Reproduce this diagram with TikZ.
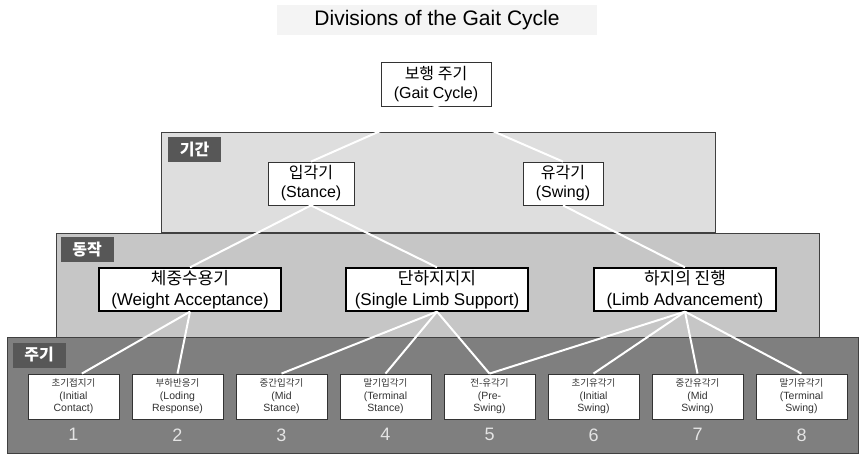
\documentclass[tikz,border=0pt]{standalone}
\usepackage{fontspec}
\setmainfont{Liberation Sans}
\newfontfamily\kr{Noto Sans CJK KR}
\usetikzlibrary{positioning}

\definecolor{bandA}{HTML}{DEDEDE}
\definecolor{bandB}{HTML}{C6C6C6}
\definecolor{bandC}{HTML}{7F7F7F}
\definecolor{tagfill}{HTML}{575757}
\definecolor{numgray}{HTML}{E4E4E4}
\definecolor{titlebg}{HTML}{F4F4F4}

\begin{document}
\begin{tikzpicture}[x=1pt, y=-1pt,
    band/.style={draw=black!75, line width=0.9pt},
    tag/.style={fill=tagfill, text=white, inner sep=0pt, minimum width=53pt, minimum height=25pt, font=\kr\bfseries\fontsize{16}{18}\selectfont},
    topbox/.style={draw=black!80, fill=white, line width=0.8pt, align=center, inner sep=1pt, font=\fontsize{16}{19}\selectfont},
    midbox/.style={draw=black, fill=white, line width=1.3pt, align=center, inner sep=1pt, minimum width=182pt, minimum height=43pt, font=\fontsize{17}{21}\selectfont},
    phase/.style={draw=black!80, fill=white, line width=0.8pt, align=center, inner sep=1pt, minimum width=91pt, minimum height=45pt, text=black!80, font=\fontsize{10.5}{12.5}\selectfont},
    numlbl/.style={text=numgray, inner sep=0pt, font=\fontsize{18}{20}\selectfont},
    link/.style={draw=white, line width=2pt}]
    \useasboundingbox (0,0) rectangle (859,453);

    % title
    \node[fill=titlebg, minimum width=320pt, minimum height=30pt, font=\fontsize{21}{24}\selectfont] (title) at (437,20) {Divisions of the Gait Cycle};

    % bands
    \filldraw[band, fill=bandA] (161,132) rectangle (715,232);
    \filldraw[band, fill=bandB] (56,233) rectangle (819,338);
    \filldraw[band, fill=bandC] (7,337) rectangle (858,453);
    \node[tag] (tagA) at (194.5,149.5) {기간};
    \node[tag] (tagB) at (87,249.5) {동작};
    \node[tag] (tagC) at (39,355) {주기};

    % nodes
    \node[topbox, minimum width=110pt, minimum height=44pt] (gait) at (436,84) {{\kr 보행 주기}\\(Gait Cycle)};
    \node[topbox, minimum width=86pt, minimum height=43pt] (stance) at (311,183.5) {{\kr 입각기}\\(Stance)};
    \node[topbox, minimum width=80pt, minimum height=43pt] (swing) at (563,183.5) {{\kr 유각기}\\(Swing)};

    \node[midbox] (wa) at (190,289.5) {{\kr 체중수용기}\\(Weight Acceptance)};
    \node[midbox] (sls) at (437,289.5) {{\kr 단하지지지}\\(Single Limb Support)};
    \node[midbox] (la) at (685,289.5) {{\kr 하지의 진행}\\(Limb Advancement)};

    \foreach \i/\kor/\enA/\enB in {1/초기접지기/{(Initial}/{Contact)}, 2/부하반응기/{(Loding}/{Response)},
        3/중간입각기/{(Mid}/{Stance)}, 4/말기입각기/{(Terminal}/{Stance)}, 5/전-유각기/{(Pre-}/{Swing)},
        6/초기유각기/{(Initial}/{Swing)}, 7/중간유각기/{(Mid}/{Swing)}, 8/말기유각기/{(Terminal}/{Swing)}} {
        \node[phase] (b\i) at ({73.5+104*(\i-1)},396.5) {{\kr\fontsize{9.5}{12.5}\selectfont \kor}\\\enA\\\enB};
        \node[numlbl, below=9pt of b\i] (n\i) {\i};
    }

    % connectors
    \draw[link] (gait.south) -- (stance.north);
    \draw[link] (gait.south) -- (swing.north);
    \draw[link] (stance.south) -- (wa.north);
    \draw[link] (stance.south) -- (sls.north);
    \draw[link] (swing.south) -- (la.north);
    \draw[link] (wa.south) -- (b1.70);
    \draw[link] (wa.south) -- (b2.north);
    \draw[link] (sls.south) -- (b3.north);
    \draw[link] (sls.south) -- (b4.north);
    \draw[link] (sls.south) -- (b5.north);
    \draw[link] (la.south) -- (b5.north);
    \draw[link] (la.south) -- (b6.north);
    \draw[link] (la.south) -- (b7.north);
    \draw[link] (la.south) -- (b8.north);
\end{tikzpicture}
\end{document}
